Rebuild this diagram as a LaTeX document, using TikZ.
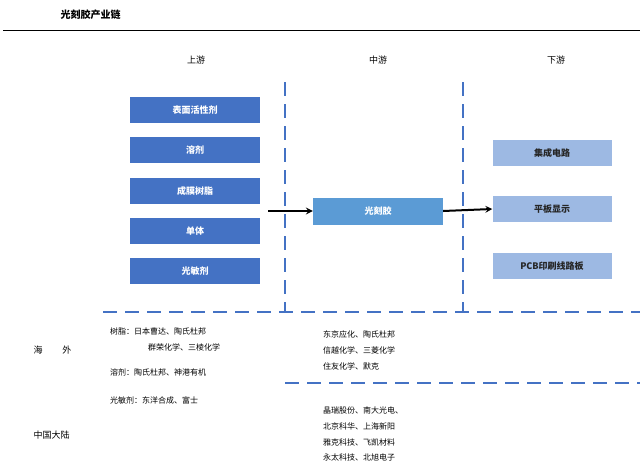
\documentclass[tikz,border=0pt]{standalone}
\usepackage{fontspec}
\setmainfont{Noto Sans CJK SC}
\usetikzlibrary{positioning}
\definecolor{upblue}{HTML}{4472C4}
\definecolor{midblue}{HTML}{5B9BD5}
\definecolor{downblue}{HTML}{9DB9E3}
\definecolor{dashblue}{HTML}{4472C4}

\begin{document}
\begin{tikzpicture}[x=1pt,y=-1pt,
  upbox/.style={rectangle, minimum width=130pt, minimum height=26pt, fill=upblue, text=white, font=\small\bfseries},
  midbox/.style={rectangle, minimum width=130pt, minimum height=27pt, fill=midblue, text=white, font=\small\bfseries},
  downbox/.style={rectangle, minimum width=119pt, minimum height=26pt, fill=downblue, text=black!85, font=\small\bfseries},
  divider/.style={dashed, dash pattern=on 14pt off 8pt, line width=2pt, dashblue},
  note/.style={anchor=west, font=\footnotesize, inner sep=0pt}]
\useasboundingbox (0,0) rectangle (640,463);

% Title
\node[anchor=west, font=\bfseries] (title) at (57,15) {光刻胶产业链};
\coordinate (tl) at (3,30);
\coordinate (tr) at (640,30);
\draw[line width=1pt] (tl) -- (tr);

% Stage headers
\node[font=\small] (up) at (196,60) {上游};
\node[font=\small] (mid) at (378,60) {中游};
\node[font=\small] (down) at (556,60) {下游};

% Dividers
\coordinate (v1t) at (285,82); \coordinate (v1b) at (285,312);
\coordinate (v2t) at (463,82); \coordinate (v2b) at (463,312);
\coordinate (hl) at (103,312); \coordinate (hr) at (640,312);
\coordinate (ml) at (285,383); \coordinate (mr) at (640,383);
\draw[divider] (v1t) -- (v1b);
\draw[divider] (v2t) -- (v2b);
\draw[divider] (hl) -- (hr);
\draw[divider] (ml) -- (mr);

% Upstream
\node[upbox] (surf) at (195,110) {表面活性剂};
\node[upbox] (solv) at (195,150) {溶剂};
\node[upbox] (resin) at (195,191) {成膜树脂};
\node[upbox] (mono) at (195,231) {单体};
\node[upbox] (sens) at (195,271) {光敏剂};

% Midstream
\node[midbox] (resist) at (378,211) {光刻胶};

% Downstream
\node[downbox] (ic) at (552,153) {集成电路};
\node[downbox] (fpd) at (552,209) {平板显示};
\node[downbox] (pcb) at (552,266) {PCB印刷线路板};

% Arrows
\coordinate (a1) at (268,211);
\draw[->, line width=2pt, >=stealth] (a1) -- (resist.west);
\draw[->, line width=2pt, >=stealth] (resist.east) -- (fpd.west);

% Companies
\node[font=\small, anchor=west] (os) at (30,350) {海\hspace{2.2em}外};
\node[font=\small, anchor=west] (cn) at (30,435) {中国大陆};
\node[note] (r1) at (110,331) {树脂：日本曹达、陶氏杜邦};
\node[note] (r2) at (148,347) {群荣化学、三棱化学};
\node[note] (s1) at (110,372) {溶剂：陶氏杜邦、神港有机};
\node[note] (p1) at (110,400) {光敏剂：东洋合成、富士};
\node[note] (m1) at (323,334) {东京应化、陶氏杜邦};
\node[note] (m2) at (323,350) {信越化学、三菱化学};
\node[note] (m3) at (323,366) {住友化学、默克};
\node[note] (c1) at (323,410) {晶瑞股份、南大光电、};
\node[note] (c2) at (323,426) {北京科华、上海新阳};
\node[note] (c3) at (323,442) {雅克科技、飞凯材料};
\node[note] (c4) at (323,457) {永太科技、北旭电子};
\end{tikzpicture}
\end{document}
